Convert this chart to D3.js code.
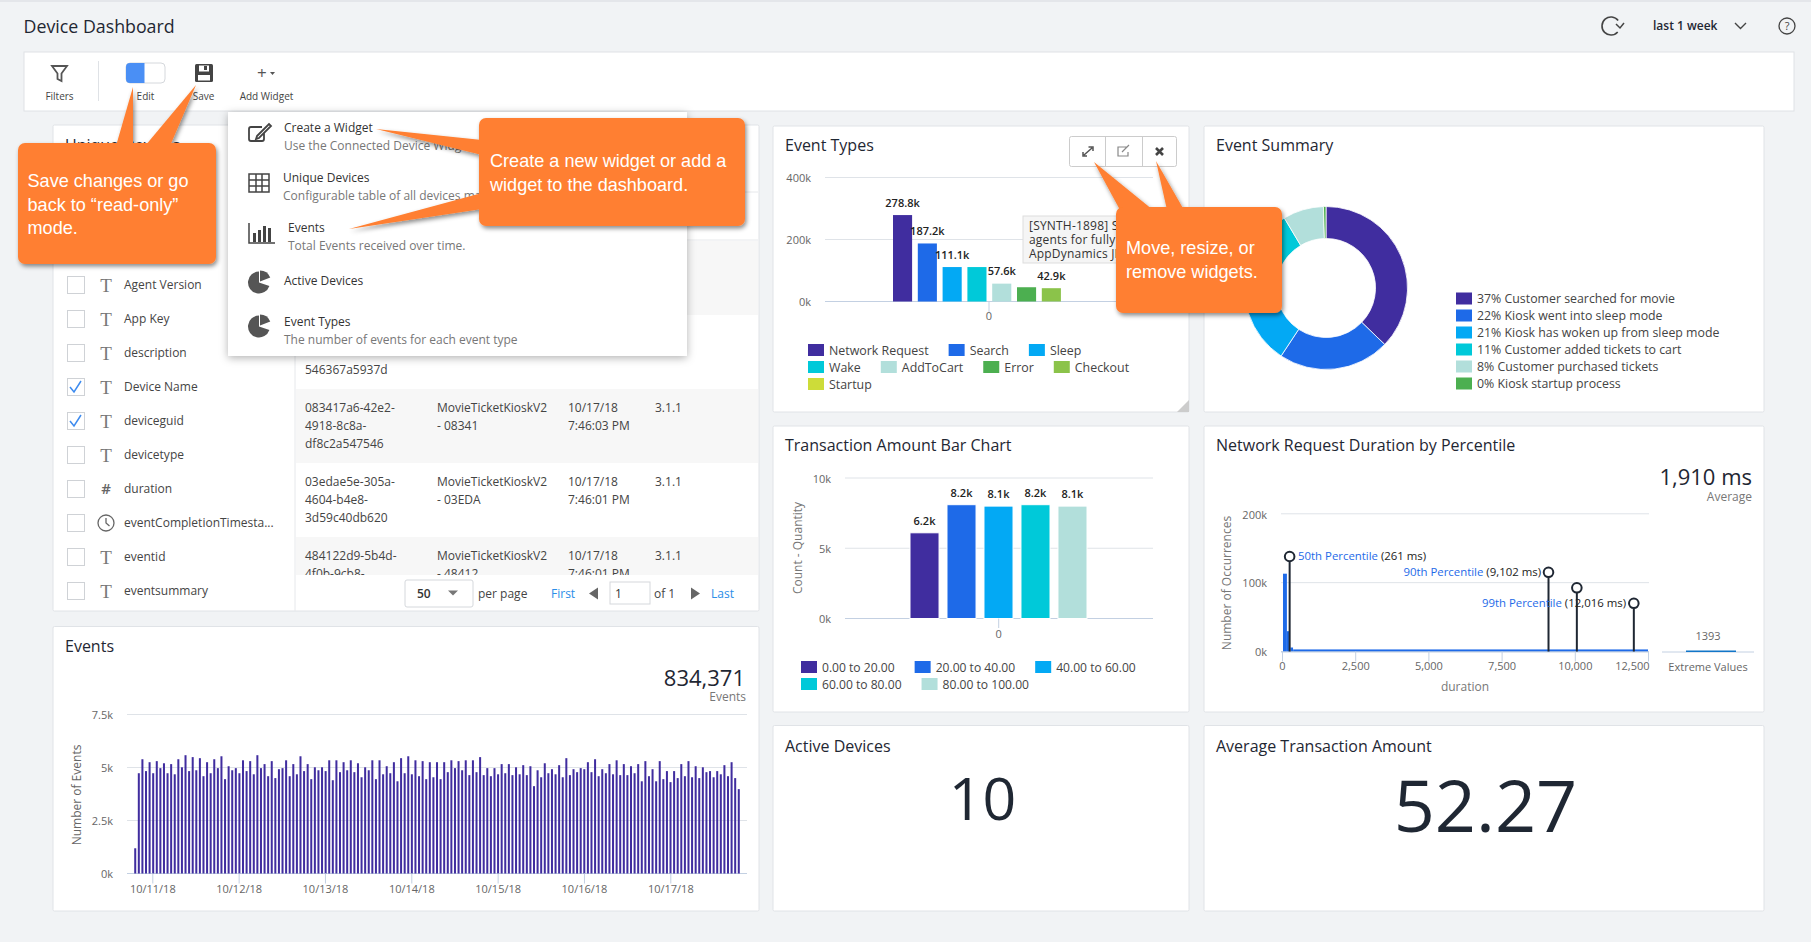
<!DOCTYPE html>
<html>
<head>
<meta charset="utf-8">
<script src="https://cdn.jsdelivr.net/npm/d3@7"></script>
<style>
html, body { margin: 0; padding: 0; background: #f1f3f5; overflow: hidden; }
text { font-family: "Open Sans", sans-serif; }
</style>
</head>
<body>
<svg id="world" width="1811" height="942"></svg>
<script>
// Data
var palette = ["#402d9f", "#1e6ae8", "#03a9f4", "#00c9d9", "#b2dfdb", "#4caf50", "#8bc34a", "#cddc39"];

var eventTypeNames = ["Network Request", "Search", "Sleep", "Wake", "AddToCart", "Error", "Checkout", "Startup"];
var eventTypeValues = [278.8, 187.2, 111.1, 111.1, 57.6, 46, 42.9, 0];
var eventTypeLabels = ["278.8k", "187.2k", "111.1k", "", "57.6k", "", "42.9k", ""];
var eventTypeTicks = [0, 200, 400];

var summaryNames = ["37% Customer searched for movie", "22% Kiosk went into sleep mode", "21% Kiosk has woken up from sleep mode",
    "11% Customer added tickets to cart", "8% Customer purchased tickets", "0% Kiosk startup process"];
var summaryValues = [37, 22, 21, 11, 8, 0.5];

var amountNames = ["0.00 to 20.00", "20.00 to 40.00", "40.00 to 60.00", "60.00 to 80.00", "80.00 to 100.00"];
var amountValues = [6.1, 8.1, 8.0, 8.1, 8.0];
var amountLabels = ["6.2k", "8.2k", "8.1k", "8.2k", "8.1k"];
var amountTicks = [0, 5, 10];

var histStarts = [34, 167, 287, 380];
var histEnds = [167, 259, 377, 12500];
var histCounts = [113, 29.5, 5.8, 3];
var durationTicks = [0, 2500, 5000, 7500, 10000, 12500];
var occurrenceTicks = [0, 100, 200];
var percentileValues = [261, 9102, 10070, 12016];
var percentileHeights = [138, 115, 92.5, 70];

var eventDates = ["10/11/18", "10/12/18", "10/13/18", "10/14/18", "10/15/18", "10/16/18", "10/17/18"];
var eventTicks = [0, 2500, 5000, 7500];
var hourlyEvents = [1190,4730,5390,4830,5250,4730,5300,4970,5200,4730,5160,4680,5390,5010,5580,4830,5490,4870,5440,4590,
    5250,4730,5390,4970,5530,4450,5060,4870,4970,4730,5340,4830,5300,4680,5580,4970,5160,4590,5300,4500,
    4920,4970,5340,4590,5160,4680,5530,4830,5160,4450,5010,4870,5010,4830,5340,4400,5340,4780,5250,4870,
    5340,4780,5200,4540,5010,4870,5340,4450,5340,4680,5060,4730,5250,4350,5440,4730,5530,4680,5340,4590,
    5300,4450,5250,4540,5250,4450,5250,4780,5340,4970,5300,4870,5340,4640,5340,4780,5490,4640,4970,4590,
    4970,4680,5160,4730,5160,4640,5010,4680,5110,4640,5060,4120,4870,4540,5200,4730,4920,4680,5110,4540,
    5440,4640,4920,4780,4970,4920,5250,4780,5390,4590,4920,4730,5160,4680,5340,4640,5160,4640,5060,4730,
    5160,4350,5300,4590,4920,4350,5300,4450,4830,4310,4830,4500,5160,4590,5300,4540,5060,4500,5010,4780,
    4830,4540,4830,4680,5110,4590,5250,4500,3980];

var fieldNames = ["Agent Version", "App Key", "description", "Device Name", "deviceguid", "devicetype", "duration",
    "eventCompletionTimesta...", "eventid", "eventsummary"];
var fieldTypes = ["T", "T", "T", "T", "T", "T", "#", "clock", "T", "T"];
var fieldChecked = [false, false, false, true, true, false, false, false, false, false];

var tableGuid = [["", "", "546367a5937d"], ["083417a6-42e2-", "4918-8c8a-", "df8c2a547546"],
    ["03edae5e-305a-", "4604-b4e8-", "3d59c40db620"], ["484122d9-5b4d-", "4f0b-9cb8-", ""]];
var tableName = [["", ""], ["MovieTicketKioskV2", "- 08341"], ["MovieTicketKioskV2", "- 03EDA"], ["MovieTicketKioskV2", "- 48412"]];
var tableTime = [["", ""], ["10/17/18", "7:46:03 PM"], ["10/17/18", "7:46:01 PM"], ["10/17/18", "7:46:01 PM"]];
var tableVersion = ["", "3.1.1", "3.1.1", "3.1.1"];

var orange = "#ff7f30";
var dark = "#1f2733";
var gridColor = "#dfe3e8";
var axisColor = "#c3d0e2";
var svg = d3.select("#world");

var defs = svg.append("defs");
var f1 = defs.append("filter").attr("id", "calloutShadow").attr("x", "-10%").attr("y", "-10%").attr("width", "125%").attr("height", "125%");
f1.append("feDropShadow").attr("dx", 1.5).attr("dy", 2.5).attr("stdDeviation", 2).attr("flood-color", "#000").attr("flood-opacity", 0.45);
var f2 = defs.append("filter").attr("id", "menuShadow").attr("x", "-5%").attr("y", "-5%").attr("width", "110%").attr("height", "112%");
f2.append("feDropShadow").attr("dx", 0).attr("dy", 2).attr("stdDeviation", 4).attr("flood-color", "#000").attr("flood-opacity", 0.3);
defs.append("clipPath").attr("id", "tableClip").append("rect").attr("x", 296).attr("y", 200).attr("width", 462).attr("height", 375);

function label(g, x, y, str, size, color, anchor, weight) {
    return g.append("text").attr("x", x).attr("y", y).attr("dy", "0.35em")
        .attr("font-size", size).attr("fill", color)
        .attr("text-anchor", anchor || "start").attr("font-weight", weight || 400).text(str);
}

function panel(x, y, w, h, title, titleY) {
    svg.append("rect").attr("x", x).attr("y", y).attr("width", w).attr("height", h).attr("rx", 1.5)
        .attr("fill", "#fff").attr("stroke", "#e0e3e7");
    if (title) label(svg, x + 12, titleY, title, 16, dark);
}

function legend(g, names, x0, y0, maxX, size) {
    var x = x0, y = y0;
    names.forEach(function(n, i) {
        var item = g.append("g");
        var t = label(item, 21, 7, n, size, "#444");
        var w = 21 + t.node().getComputedTextLength();
        if (x + w > maxX) { x = x0; y += 17; }
        item.attr("transform", "translate(" + x + "," + y + ")");
        item.append("rect").attr("width", 16).attr("height", 12).attr("fill", palette[i]);
        x += w + 20;
    });
}

function styleAxis(a) {
    a.select(".domain").remove();
    a.selectAll("text").attr("font-size", 11).attr("fill", "#666").style("font-family", '"Open Sans", sans-serif');
}

function yGrid(y, ticks, x0, x1, fmt) {
    var a = svg.append("g").attr("transform", "translate(" + x0 + ",0.7)")
        .call(d3.axisLeft(y).tickValues(ticks).tickSize(0).tickPadding(14).tickFormat(fmt));
    styleAxis(a);
    a.selectAll("line").remove();
    svg.append("g").selectAll("line").data(ticks).join("line")
        .attr("x1", x0).attr("x2", x1).attr("y1", y).attr("y2", y)
        .attr("stroke", function(d) { return d === 0 ? axisColor : gridColor; });
}

function kFmt(d) { return d + "k"; }

// Page header
svg.append("line").attr("x1", 0).attr("x2", 1811).attr("y1", 1).attr("y2", 1).attr("stroke", "#dfe2e6").attr("stroke-width", 1.5);
label(svg, 23.5, 26.5, "Device Dashboard", 17.8, dark);
label(svg, 1653, 26, "last 1 week", 12, dark, "start", 600);
var hdr = svg.append("g").attr("fill", "none").attr("stroke", "#444").attr("stroke-width", 1.6);
hdr.append("path").attr("d", d3.arc()({ innerRadius: 9, outerRadius: 9, startAngle: 2.3, endAngle: 7.2 })).attr("transform", "translate(1611,26)");
hdr.append("path").attr("d", "M1616 24l4 4 4 -5").attr("stroke-width", 1.5);
hdr.append("path").attr("d", "M1735 23l5.500 5.500 5.500 -5.500").attr("stroke-width", 1.4);
hdr.append("circle").attr("cx", 1787).attr("cy", 26).attr("r", 8).attr("stroke-width", 1.3);
label(svg, 1787, 26, "?", 11, "#444", "middle");

// Toolbar
svg.append("rect").attr("x", 24).attr("y", 52).attr("width", 1770).attr("height", 59).attr("fill", "#fff").attr("stroke", "#dfe2e6");
svg.append("path").attr("d", "M52 66h15l-5.500 7.500v7.500l-4 -2v-5.500z").attr("fill", "none").attr("stroke", "#555").attr("stroke-width", 1.8);
svg.append("line").attr("x1", 98.500).attr("x2", 98.500).attr("y1", 61).attr("y2", 101).attr("stroke", "#dfe2e6");
svg.append("rect").attr("x", 126).attr("y", 63).attr("width", 39).attr("height", 20).attr("rx", 4).attr("fill", "#fff").attr("stroke", "#d5d8dc");
svg.append("path").attr("d", "M130 63h14.500v20h-14.500a4 4 0 0 1 -4 -4v-12a4 4 0 0 1 4 -4z").attr("fill", "#4a8ff5");
svg.append("rect").attr("x", 195).attr("y", 64).attr("width", 18).attr("height", 18).attr("rx", 1.5).attr("fill", "#444");
svg.append("rect").attr("x", 199).attr("y", 65.500).attr("width", 10).attr("height", 6).attr("fill", "#fff");
svg.append("rect").attr("x", 204).attr("y", 66).attr("width", 3).attr("height", 4).attr("fill", "#444");
svg.append("rect").attr("x", 198).attr("y", 75).attr("width", 12).attr("height", 5.500).attr("fill", "#fff");
label(svg, 257, 73, "+", 17, "#555");
svg.append("path").attr("d", "M270 72h5l-2.500 3z").attr("fill", "#555");
label(svg, 59.500, 96.500, "Filters", 10, "#444", "middle");
label(svg, 145.500, 96.500, "Edit", 10, "#444", "middle");
label(svg, 203.500, 96.500, "Save", 10, "#444", "middle");
label(svg, 266.500, 96.500, "Add Widget", 10, "#444", "middle");

// Panels
panel(53, 125, 706, 486, "Unique Devices", 145);
panel(53, 626.5, 706, 284.5, "Events", 646);
panel(773, 126, 416, 286, "Event Types", 145);
panel(1204, 126, 560, 286, "Event Summary", 145);
panel(773, 426, 416, 286, "Transaction Amount Bar Chart", 445);
panel(1204, 426, 560, 286, "Network Request Duration by Percentile", 445);
panel(773, 725.5, 416, 185.5, "Active Devices", 746);
panel(1204, 725.5, 560, 185.5, "Average Transaction Amount", 746);

// Unique Devices table
svg.append("line").attr("x1", 295).attr("x2", 295).attr("y1", 240).attr("y2", 611).attr("stroke", "#e6e8eb");
svg.append("g").selectAll("line").data([192, 240]).join("line")
    .attr("x1", 296).attr("x2", 758).attr("y1", function(d) { return d; }).attr("y2", function(d) { return d; }).attr("stroke", "#e6e8eb");
var rowTop = d3.scaleLinear().domain([0, 1]).range([315, 389]);
var tableG = svg.append("g").attr("clip-path", "url(#tableClip)");
tableG.selectAll("rect").data([-1, 1, 3]).join("rect")
    .attr("x", 296).attr("width", 462).attr("height", 74).attr("fill", "#f7f7f7")
    .attr("y", function(d) { return rowTop(d); });
tableGuid.forEach(function(lines, r) {
    lines.forEach(function(s, i) { if (s) label(tableG, 305, rowTop(r) + 19 + i * 18, s, 12, "#444"); });
    tableName[r].forEach(function(s, i) { if (s) label(tableG, 437, rowTop(r) + 19 + i * 18, s, 12, "#444"); });
    tableTime[r].forEach(function(s, i) { if (s) label(tableG, 568, rowTop(r) + 19 + i * 18, s, 12, "#444"); });
    if (tableVersion[r]) label(tableG, 655, rowTop(r) + 19, tableVersion[r], 12, "#444");
});
var rowY = d3.scaleLinear().domain([0, 9]).range([285, 591]);
fieldNames.forEach(function(n, i) {
    var y = rowY(i);
    svg.append("rect").attr("x", 67.500).attr("y", y - 8.500).attr("width", 17).attr("height", 17).attr("fill", "#fff").attr("stroke", "#cfd2d6");
    if (fieldChecked[i]) {
        svg.append("path").attr("d", "M70 " + y + "l4 5 7 -11").attr("fill", "none").attr("stroke", "#3d8bef").attr("stroke-width", 1.5);
    }
    if (fieldTypes[i] === "clock") {
        svg.append("circle").attr("cx", 106).attr("cy", y).attr("r", 8).attr("fill", "none").attr("stroke", "#666").attr("stroke-width", 1.3);
        svg.append("path").attr("d", "M106 " + (y - 5) + "v5l3.500 3").attr("fill", "none").attr("stroke", "#666").attr("stroke-width", 1.3);
    } else if (fieldTypes[i] === "#") {
        label(svg, 106, y, "#", 15, "#666", "middle", 600);
    } else {
        label(svg, 106, y, "T", 19, "#777", "middle").style("font-family", '"Liberation Serif", serif');
    }
    label(svg, 124, y, n, 12, "#444");
});
svg.append("rect").attr("x", 405).attr("y", 580).attr("width", 68).attr("height", 27).attr("rx", 2).attr("fill", "#fff").attr("stroke", "#d5d8dc");
label(svg, 417, 593.500, "50", 12, "#333", "start", 600);
svg.append("path").attr("d", "M448 590.500h10l-5 5z").attr("fill", "#777");
label(svg, 478, 593.500, "per page", 12, "#444");
label(svg, 551, 593.500, "First", 12, "#2b8ee8");
svg.append("path").attr("d", "M598 587.500v12l-9 -6z").attr("fill", "#666");
svg.append("rect").attr("x", 610).attr("y", 582).attr("width", 40).attr("height", 22).attr("fill", "#fff").attr("stroke", "#d5d8dc");
label(svg, 615, 593.500, "1", 12, "#333");
label(svg, 654, 593.500, "of 1", 12, "#444");
svg.append("path").attr("d", "M691 587.500v12l9 -6z").attr("fill", "#666");
label(svg, 711, 593.500, "Last", 12, "#2b8ee8");

// Events chart
var evY = d3.scaleLinear().domain([0, 7500]).range([873.5, 714.5]);
yGrid(evY, eventTicks, 127, 747, function(d) { return d === 0 ? "0k" : (d / 1000) + "k"; });
var evX = d3.scaleBand().domain(d3.range(hourlyEvents.length)).range([133.5, 740.5]).paddingInner(0.44).paddingOuter(0.2);
svg.append("g").selectAll("rect").data(hourlyEvents).join("rect")
    .attr("x", function(d, i) { return evX(i); }).attr("width", evX.bandwidth())
    .attr("y", function(d) { return evY(d); })
    .attr("height", function(d) { return evY(0) - evY(d); })
    .attr("fill", palette[0]);
var evDates = d3.scalePoint().domain(eventDates).range([152.3, 670.3]);
var evAxis = svg.append("g").attr("transform", "translate(0,873.5)")
    .call(d3.axisBottom(evDates).tickSize(10).tickPadding(1.5));
styleAxis(evAxis);
evAxis.selectAll("line").attr("stroke", axisColor);
label(svg, 745, 678, "834,371", 22, dark, "end");
label(svg, 746, 697, "Events", 12, "#777", "end");
label(svg, 0, 0, "Number of Events", 12, "#666", "middle").attr("transform", "translate(77,795) rotate(-90)");

// Event Types chart
var etY = d3.scaleLinear().domain([0, 400]).range([301.5, 177.5]);
yGrid(etY, eventTypeTicks, 825, 1153, kFmt);
var etX = d3.scaleBand().domain(eventTypeNames).range([893, 1085.7]).paddingInner(0.23).paddingOuter(0);
svg.append("g").selectAll("rect").data(eventTypeValues).join("rect")
    .attr("x", function(d, i) { return etX(eventTypeNames[i]); }).attr("width", etX.bandwidth())
    .attr("y", function(d) { return etY(d); })
    .attr("height", function(d) { return etY(0) - etY(d); })
    .attr("fill", function(d, i) { return palette[i]; });
eventTypeValues.forEach(function(d, i) {
    if (eventTypeLabels[i]) label(svg, etX(eventTypeNames[i]) + etX.bandwidth() / 2, etY(d) - 12, eventTypeLabels[i], 11, "#222", "middle", 600);
});
svg.append("line").attr("x1", 989).attr("x2", 989).attr("y1", 301.5).attr("y2", 312).attr("stroke", axisColor);
label(svg, 989, 316, "0", 11, "#666", "middle");
legend(svg, eventTypeNames, 808, 344, 1143, 12.4);
// tooltip behind the callout, only the part the reference shows
svg.append("rect").attr("x", 1023).attr("y", 216).attr("width", 110).attr("height", 47).attr("fill", "#f5f5f5").attr("stroke", "#ddd");
label(svg, 1029, 225.5, "[SYNTH-1898] S", 12, "#333").attr("letter-spacing", 0.2);
label(svg, 1029, 239.5, "agents for fully c", 12, "#333").attr("letter-spacing", 0.2);
label(svg, 1029, 253.5, "AppDynamics JIF", 12, "#333").attr("letter-spacing", 0.2);
// widget controls
svg.append("rect").attr("x", 1069.500).attr("y", 136.500).attr("width", 107).attr("height", 30).attr("rx", 2).attr("fill", "#fff").attr("stroke", "#ccc");
svg.append("path").attr("d", "M1105.500 136.500v30M1142.500 136.500v30").attr("stroke", "#ccc");
svg.append("path").attr("d", "M1084 155l8 -7M1088.500 147h4.500v4M1083 152v4h4").attr("fill", "none").attr("stroke", "#555").attr("stroke-width", 1.5);
svg.append("path").attr("d", "M1127 147h-9v9h10v-4M1122 152l7 -7").attr("fill", "none").attr("stroke", "#888").attr("stroke-width", 1.2);
svg.append("path").attr("d", "M1156 148l7 7M1163 148l-7 7").attr("stroke", "#444").attr("stroke-width", 2.6);
svg.append("path").attr("d", "M1189 400v12h-12z").attr("fill", "#ccc");

// Event Summary donut
var pie = d3.pie().sort(null).startAngle(0).endAngle(2 * Math.PI);
var arc = d3.arc().innerRadius(49.500).outerRadius(81.500);
svg.append("g").attr("transform", "translate(1326,288)").selectAll("path").data(pie(summaryValues)).join("path")
    .attr("d", arc).attr("fill", function(d, i) { return palette[i]; }).attr("stroke", "#fff").attr("stroke-width", 0.8);
var sumLegend = svg.append("g");
summaryNames.forEach(function(n, i) {
    sumLegend.append("rect").attr("x", 1456).attr("y", 292.5 + i * 17).attr("width", 16).attr("height", 12).attr("fill", palette[i]);
    label(sumLegend, 1477, 299 + i * 17, n, 12.35, "#444");
});

// Transaction Amount chart
var taY = d3.scaleLinear().domain([0, 10]).range([618.5, 478]);
yGrid(taY, amountTicks, 845, 1153, kFmt);
var taX = d3.scaleBand().domain(amountNames).range([910, 1087]).paddingInner(0.215).paddingOuter(0);
svg.append("g").selectAll("rect").data(amountValues).join("rect")
    .attr("x", function(d, i) { return taX(amountNames[i]); }).attr("width", taX.bandwidth())
    .attr("y", function(d) { return taY(d); })
    .attr("height", function(d) { return taY(0) - taY(d); })
    .attr("fill", function(d, i) { return palette[i]; })
    .attr("stroke", "#fff").attr("stroke-width", 1);
amountValues.forEach(function(d, i) {
    label(svg, taX(amountNames[i]) + taX.bandwidth() / 2, taY(d) - 12, amountLabels[i], 11, "#222", "middle", 600);
});
svg.append("line").attr("x1", 998.700).attr("x2", 998.700).attr("y1", 618.5).attr("y2", 628).attr("stroke", axisColor);
label(svg, 998.700, 634, "0", 11, "#666", "middle");
label(svg, 0, 0, "Count - Quantity", 12, "#777", "middle").attr("transform", "translate(798,548) rotate(-90)");
legend(svg, amountNames, 801, 661, 1143, 12.1);

// Network Request Duration chart
var ndY = d3.scaleLinear().domain([0, 200]).range([651.5, 513.8]);
yGrid(ndY, occurrenceTicks, 1281, 1649, kFmt);
var ndX = d3.scaleLinear().domain([0, 12500]).range([1282, 1648]);
svg.append("g").selectAll("rect").data(histCounts).join("rect")
    .attr("x", function(d, i) { return ndX(histStarts[i]); })
    .attr("width", function(d, i) { return ndX(histEnds[i]) - ndX(histStarts[i]); })
    .attr("y", function(d) { return ndY(d); })
    .attr("height", function(d) { return ndY(0) - ndY(d); })
    .attr("fill", palette[1]);
var ndAxis = svg.append("g").attr("transform", "translate(0,651.5)")
    .call(d3.axisBottom(ndX).tickValues(durationTicks).tickSize(10).tickPadding(0.5).tickFormat(d3.format(",")));
styleAxis(ndAxis);
ndAxis.selectAll("line").attr("stroke", axisColor);
// last label is pulled inside the axis so it clears "Extreme Values"
ndAxis.selectAll("text").filter(function(d) { return d === 12500; }).attr("text-anchor", "end").attr("x", 1);
svg.append("line").attr("x1", 1281).attr("x2", 1649).attr("y1", 652).attr("y2", 652).attr("stroke", axisColor);
percentileValues.forEach(function(v, i) {
    svg.append("line").attr("x1", ndX(v)).attr("x2", ndX(v)).attr("y1", ndY(percentileHeights[i])).attr("y2", ndY(0))
        .attr("stroke", dark).attr("stroke-width", 2);
    svg.append("circle").attr("cx", ndX(v)).attr("cy", ndY(percentileHeights[i])).attr("r", 4.800)
        .attr("fill", "#fff").attr("stroke", dark).attr("stroke-width", 2);
});
function pctLabel(x, y, anchor, name, val) {
    var t = label(svg, x, y, "", 11.4, "#222", anchor);
    t.append("tspan").attr("fill", palette[1]).text(name);
    t.append("tspan").text(" " + val);
}
pctLabel(1298, 556.5, "start", "50th Percentile", "(261 ms)");
pctLabel(1541, 572.5, "end", "90th Percentile", "(9,102 ms)");
pctLabel(1626, 603.5, "end", "99th Percentile", "(12,016 ms)");
label(svg, 0, 0, "Number of Occurrences", 12, "#777", "middle").attr("transform", "translate(1226.500,583) rotate(-90)");
label(svg, 1465, 687, "duration", 12, "#777", "middle");
label(svg, 1752, 477, "1,910 ms", 22, dark, "end");
label(svg, 1752, 497, "Average", 12, "#777", "end");
svg.append("line").attr("x1", 1662).attr("x2", 1754).attr("y1", 652).attr("y2", 652).attr("stroke", axisColor);
svg.append("rect").attr("x", 1686).attr("y", 650.5).attr("width", 50).attr("height", 1.500).attr("fill", "#1276c8");
label(svg, 1708, 636.5, "1393", 11, "#666", "middle");
label(svg, 1708, 667, "Extreme Values", 11, "#666", "middle");

// Big numbers
label(svg, 982.5, 799, "10", 59, dark, "middle");
label(svg, 1485.5, 806.7, "52.27", 72, dark, "middle");

// Add Widget menu
svg.append("rect").attr("x", 228).attr("y", 112).attr("width", 459).attr("height", 244).attr("fill", "#fff").attr("filter", "url(#menuShadow)");
var menuIcons = svg.append("g").attr("fill", "none").attr("stroke", "#444").attr("stroke-width", 1.8);
menuIcons.append("path").attr("d", "M262 127h-11a2 2 0 0 0 -2 2v10a2 2 0 0 0 2 2h11a2 2 0 0 0 2 -2v-6M257 136l12 -12 2 2 -12 12 -3 1z");
menuIcons.append("path").attr("d", "M249 174h20v18h-20zM249 180h20M249 186h20M256 174v18M262 174v18").attr("stroke-width", 1.5);
menuIcons.append("path").attr("d", "M249 223v20h26").attr("stroke-width", 1.5);
svg.append("path").attr("d", "M253 233h3v9h-3zM258 230h3v12h-3zM263 226h3v16h-3zM268 228h3v14h-3z").attr("fill", "#444");
[282.500, 326.500].forEach(function(cy) {
    svg.append("path").attr("transform", "translate(259," + cy + ")")
        .attr("d", d3.arc().innerRadius(0).outerRadius(11)({ startAngle: 1.900, endAngle: 6.283 })).attr("fill", "#555");
    svg.append("path").attr("transform", "translate(260," + (cy - 1) + ")")
        .attr("d", d3.arc().innerRadius(0).outerRadius(11)({ startAngle: 0, endAngle: 1.200 })).attr("fill", "#555");
});
label(svg, 284, 128, "Create a Widget", 12, "#333");
label(svg, 284, 146, "Use the Connected Device Widget", 12, "#777");
label(svg, 283, 178, "Unique Devices", 12, "#333");
label(svg, 283, 196, "Configurable table of all devices managed", 12, "#777");
label(svg, 288, 228, "Events", 12, "#333");
label(svg, 288, 246, "Total Events received over time.", 12, "#777");
label(svg, 284, 281, "Active Devices", 12, "#333");
label(svg, 284, 322, "Event Types", 12, "#333");
label(svg, 284, 340, "The number of events for each event type", 12, "#777");

// Callouts
function callout(x, y, w, h, tails, lines, tx, ty) {
    var g = svg.append("g").attr("filter", "url(#calloutShadow)");
    tails.forEach(function(p) { g.append("polygon").attr("points", p).attr("fill", orange); });
    g.append("rect").attr("x", x).attr("y", y).attr("width", w).attr("height", h).attr("rx", 7).attr("fill", orange);
    lines.forEach(function(s, i) {
        label(svg, tx, ty + i * 23.3, s, 18.1, "#fff").style("font-family", '"Liberation Sans", Arial, sans-serif');
    });
}
callout(18, 143, 198, 121, ["133,87 133,146 116,146", "196,85 170,146 145,146"],
    ["Save changes or go", "back to \u201cread-only\u201d", "mode."], 27.5, 181);
callout(479, 118, 266, 108, ["376,129 482,140 482,155", "349,229 482,193 482,209"],
    ["Create a new widget or add a", "widget to the dashboard."], 490, 161);
callout(1116, 207, 166, 106, ["1094,162 1153,210 1120,210", "1156,161 1167,210 1184,210"],
    ["Move, resize, or", "remove widgets."], 1126, 248);
</script>
</body>
</html>
